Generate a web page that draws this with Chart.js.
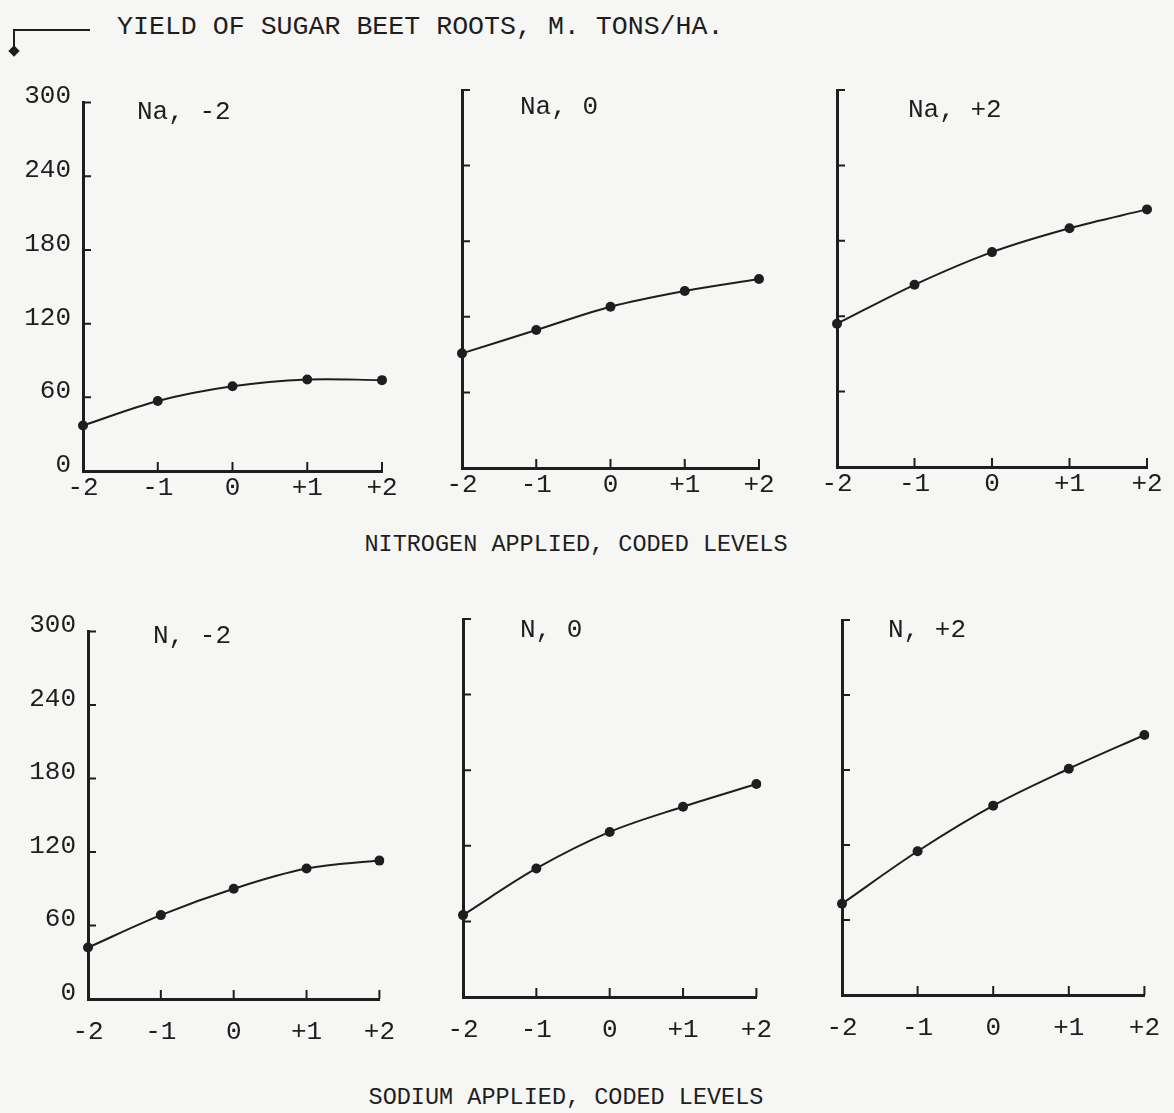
<!DOCTYPE html>
<html>
<head>
<meta charset="utf-8">
<script src="https://cdn.jsdelivr.net/npm/chart.js@4.4.1/dist/chart.umd.min.js"></script>
<style>
  html, body { margin: 0; padding: 0; }
  body {
    width: 1174px; height: 1113px; position: relative; overflow: hidden;
    background: #f6f6f4; color: #1e1e1e;
    font-family: 'Liberation Mono', 'DejaVu Sans Mono', monospace;
  }
  canvas { position: absolute; }
  .txt { position: absolute; white-space: pre; line-height: 1; transform: translateY(-50%); }
  .title { font-size: 26.6px; left: 117px; top: 27px; }
  .xtitle { font-size: 23.5px; transform: translate(-50%, -50%); }
  .panel-label { font-size: 26px; }
  #bracket {
    position: absolute; left: 13px; top: 29px; width: 75px; height: 22px;
    border-top: 2px solid #1e1e1e; border-left: 2.5px solid #1e1e1e;
  }
  #bracket-head {
    position: absolute; left: 10px; top: 47px; width: 8px; height: 8px;
    background: #1e1e1e; transform: rotate(45deg);
  }
</style>
</head>
<body>

<div id="bracket"></div>
<div id="bracket-head"></div>
<div class="txt title">YIELD OF SUGAR BEET ROOTS, M. TONS/HA.</div>
<div class="txt xtitle" style="left:576px; top:545px;">NITROGEN APPLIED, CODED LEVELS</div>
<div class="txt xtitle" style="left:566px; top:1098px;">SODIUM APPLIED, CODED LEVELS</div>

<script>
// coded levels on the x axis, and y tick values
const levels = ['-2', '-1', '0', '+1', '+2'];
const yTickValues = [0, 60, 120, 180, 240, 300];

// yield (m. tons/ha) vs nitrogen, sodium held at -2 / 0 / +2
const naMinus2 = [37, 57, 69, 74.5, 74];
const naZero = [91, 109.5, 128, 140.5, 150];
const naPlus2 = [114, 145, 171, 190, 205];

// yield vs sodium, nitrogen held at -2 / 0 / +2
const nMinus2 = [42, 68.5, 90, 106.5, 113];
const nZero = [65, 102, 131, 151, 169];
const nPlus2 = [73, 115, 151.5, 181, 208];

const panelTitles = ['Na, -2', 'Na, 0', 'Na, +2', 'N, -2', 'N, 0', 'N, +2'];
const panelSeries = [naMinus2, naZero, naPlus2, nMinus2, nZero, nPlus2];

// plot-area boxes on the page and where each panel label sits
const panelBoxes = [
  { left: 83,  top: 95,  right: 382,  bottom: 471, showY: true,  xPad: 2,  lx: 137, ly: 112 },
  { left: 462, top: 90,  right: 759,  bottom: 468, showY: false, xPad: 2,  lx: 520, ly: 107 },
  { left: 837, top: 90,  right: 1147, bottom: 467, showY: false, xPad: 2,  lx: 908, ly: 110 },
  { left: 88,  top: 624, right: 383,  bottom: 999, showY: true,  xPad: 18, lx: 153, ly: 636 },
  { left: 463, top: 619, right: 760,  bottom: 997, showY: false, xPad: 18, lx: 520, ly: 630 },
  { left: 842, top: 620, right: 1148, bottom: 995, showY: false, xPad: 18, lx: 888, ly: 630 }
];

const INK = '#1e1e1e';
const Y_AXIS_W = 80, PAD_TOP = 20, PAD_RIGHT = 30, X_AXIS_H = 50;

Chart.defaults.font.family = "'Liberation Mono', 'DejaVu Sans Mono', monospace";
Chart.defaults.color = INK;

// short ticks pointing into the plot, like a hand-drawn graph
const inwardTicks = {
  id: 'inwardTicks',
  afterDraw(chart) {
    const { ctx, chartArea, scales } = chart;
    ctx.save();
    ctx.strokeStyle = INK;
    ctx.lineWidth = 2;
    ctx.beginPath();
    yTickValues.slice(1).forEach(v => {
      const y = scales.y.getPixelForValue(v);
      ctx.moveTo(chartArea.left, y);
      ctx.lineTo(chartArea.left + 8, y);
    });
    levels.forEach((lbl, i) => {
      if (i === 0) return;
      const x = scales.x.getPixelForValue(i);
      ctx.moveTo(x, chartArea.bottom);
      ctx.lineTo(x, chartArea.bottom - 9);
    });
    ctx.stroke();
    ctx.restore();
  }
};

panelBoxes.forEach((box, idx) => {
  const w = box.right - box.left, h = box.bottom - box.top;
  const canvas = document.createElement('canvas');
  canvas.width = w + Y_AXIS_W + PAD_RIGHT;
  canvas.height = h + PAD_TOP + X_AXIS_H;
  canvas.style.left = (box.left - Y_AXIS_W) + 'px';
  canvas.style.top = (box.top - PAD_TOP) + 'px';
  document.body.appendChild(canvas);

  const label = document.createElement('div');
  label.className = 'txt panel-label';
  label.style.left = box.lx + 'px';
  label.style.top = box.ly + 'px';
  label.textContent = panelTitles[idx];
  document.body.appendChild(label);

  new Chart(canvas, {
    type: 'line',
    data: {
      labels: levels,
      datasets: [{
        data: panelSeries[idx],
        borderColor: INK,
        borderWidth: 2,
        backgroundColor: INK,
        pointRadius: 5,
        pointBorderWidth: 0,
        tension: 0.35,
        fill: false
      }]
    },
    options: {
      responsive: false,
      animation: false,
      events: [],
      layout: { padding: { top: PAD_TOP, right: PAD_RIGHT, left: 0, bottom: 0 } },
      plugins: { legend: { display: false }, tooltip: { enabled: false }, title: { display: false } },
      scales: {
        x: {
          type: 'category',
          offset: false,
          grid: { display: false, drawTicks: false },
          border: { display: true, color: INK, width: 3 },
          ticks: { font: { size: 26 }, padding: box.xPad, maxRotation: 0, autoSkip: false },
          afterFit: s => { s.height = X_AXIS_H; }
        },
        y: {
          min: 0, max: 300,
          grid: { display: false, drawTicks: false },
          border: { display: true, color: INK, width: 3 },
          afterBuildTicks: s => { s.ticks = yTickValues.map(v => ({ value: v })); },
          ticks: {
            display: box.showY,
            font: { size: 26 },
            padding: 12,
            labelOffset: -6
          },
          afterFit: s => { s.width = Y_AXIS_W; }
        }
      }
    },
    plugins: [inwardTicks]
  });
});
</script>
</body>
</html>
